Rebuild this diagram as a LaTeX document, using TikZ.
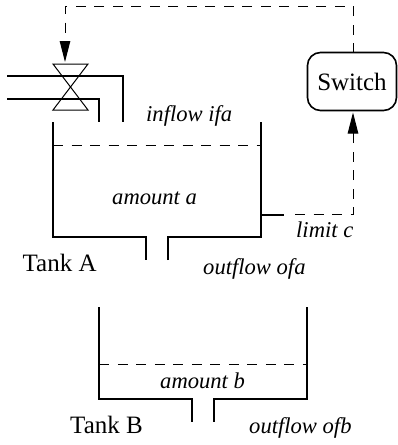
\documentclass[tikz,border=0pt]{standalone}
\usepackage{fontspec}
\setmainfont{Liberation Serif}
\usetikzlibrary{arrows.meta}
\tikzset{
  wall/.style={line width=2pt, line cap=butt, line join=miter},
  surface/.style={line width=1pt, dash pattern=on 10pt off 8.5pt},
  signalline/.style={line width=1pt, dash pattern=on 10pt off 8.5pt},
  signaltip/.style={-{Triangle[length=21pt,width=10.5pt]}, line width=1pt},
  tanklabel/.style={font=\fontsize{25}{30}\selectfont, anchor=base west, inner sep=0pt},
  quantity/.style={font=\fontsize{22.6}{27}\selectfont\itshape, anchor=base west, inner sep=0pt}
}
\begin{document}
\begin{tikzpicture}[x=1pt,y=-1pt]
    \useasboundingbox (0,0) rectangle (397,445);
    % Switch
    \node[draw, line width=1.6pt, rounded corners=13pt, minimum width=89pt, minimum height=58pt,
          inner sep=0pt, font=\fontsize{25}{30}\selectfont] (switch) at (352,81.5) {Switch};
    % Valve and pipes
    \draw[line width=1pt] (53,64) -- (88,64) -- (53,110) -- (88,110) -- cycle;
    \draw[wall] (7,76) -- (122.5,76) -- (122.5,122);
    \draw[wall] (7,98.7) -- (99,98.7) -- (99,122);
    % Tank A
    \draw[wall] (53,122) -- (53,237) -- (145.7,237) -- (145.7,260);
    \draw[wall] (168,260) -- (168,237) -- (261,237) -- (261,122);
    \draw[surface] (53,145) -- (261,145);
    % Tank B
    \draw[wall] (99.3,307) -- (99.3,399) -- (191.7,399) -- (191.7,421.7);
    \draw[wall] (214.3,421.7) -- (214.3,399) -- (307,399) -- (307,307);
    \draw[surface] (99.3,364) -- (307,364);
    % Signals
    \coordinate (valvetop) at (65,62);
    \coordinate (gauge) at (261,214.5);
    \coordinate (gaugeend) at (284,214.5);
    \coordinate (gaugedash) at (295,214.5);
    \draw[wall] (gauge) -- (gaugeend);
    \draw[signalline, dash phase=1pt] (353,52) -- (353,6) -- (65,6) -- (65,41);
    \draw[signalline] (gaugedash) -- (353,214.5) -- (353,133);
    \draw[signaltip] (65,41) -- (valvetop);
    \draw[signaltip] (353,133) -- (353,112.5);
    % Labels
    \node[tanklabel] (tanka) at (22.5,271.7) {Tank A};
    \node[tanklabel] (tankb) at (70,433) {Tank B};
    \node[quantity] (inflow) at (146,121) {inflow ifa};
    \node[quantity] (amounta) at (112,204) {amount a};
    \node[quantity] (limit) at (296,237) {limit c};
    \node[quantity] (outflowa) at (203,274) {outflow ofa};
    \node[quantity] (amountb) at (160,388) {amount b};
    \node[quantity] (outflowb) at (249,433) {outflow ofb};
\end{tikzpicture}
\end{document}
